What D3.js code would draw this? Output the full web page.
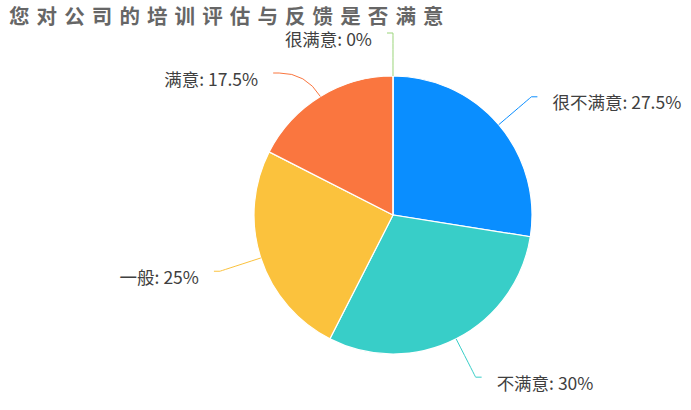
<!DOCTYPE html>
<html><head><meta charset="utf-8">
<script src="https://cdn.jsdelivr.net/npm/d3@7/dist/d3.min.js"></script>
<style>body{margin:0;background:#fff;}svg{display:block;}</style>
</head><body>
<svg id="chart" width="691" height="410"></svg>
<script>
const title = "您对公司的培训评估与反馈是否满意";
const categories = ["很不满意", "不满意", "一般", "满意", "很满意"];
const values = [27.5, 30, 25, 17.5, 0];
const colors = ["#0A8EFF", "#38CEC8", "#FBC23D", "#FA763F", "#9AD47A"];

const W = 691, H = 410;
const cx = 393, cy = 215, R = 139, labelR = 182, tail = 6, gap = 15, minSpace = 40;
const svg = d3.select("#chart");
const font = "'Noto Sans CJK SC','Noto Sans',sans-serif";

svg.append("text").attr("x", 9).attr("y", 15).attr("dominant-baseline", "central")
  .attr("font-family", font).attr("font-size", 20.5).attr("font-weight", 700)
  .attr("letter-spacing", 7.1).attr("fill", "#666").text(title);

const data = categories.map((c, i) => ({ name: c, value: values[i], color: colors[i] }));
const pie = d3.pie().sort(null).value(d => d.value);
const arcs = pie(data);
const arc = d3.arc().innerRadius(0).outerRadius(R);
const g = svg.append("g").attr("transform", `translate(${cx},${cy})`);

g.selectAll("path.slice").data(arcs).join("path").attr("class", "slice")
  .attr("d", arc).attr("fill", d => d.data.color)
  .attr("stroke", "#fff").attr("stroke-width", 1.2);

// label layout
const labels = arcs.map(d => {
  let a = (d.startAngle + d.endAngle) / 2;
  if (a >= 2 * Math.PI - 1e-9) a = 2 * Math.PI - 1e-6;
  const sx = R * Math.sin(a), sy = -R * Math.cos(a);
  const lx = labelR * Math.sin(a), ly = -labelR * Math.cos(a);
  return { d, a, sx, sy, lx, ly, right: Math.sin(a) > 0 };
});
[true, false].forEach(side => {
  const grp = labels.filter(l => l.right === side).sort((p, q) => p.ly - q.ly);
  for (let i = 1; i < grp.length; i++) {
    if (grp[i].ly - grp[i - 1].ly < minSpace) {
      grp[i].ly = grp[i - 1].ly + minSpace;
      const dx = Math.sqrt(Math.max(0, labelR * labelR - grp[i].ly * grp[i].ly));
      grp[i].lx = side ? dx : -dx;
    }
  }
});

labels.forEach(l => {
  const dir = l.right ? 1 : -1;
  const ux = Math.sin(l.a), uy = -Math.cos(l.a);
  let t = Math.abs(uy) > 1e-6 ? (l.ly - l.sy) / uy : 0;
  if (t < 0) t = 0;
  const c1x = l.sx + ux * t;
  const ex = l.lx + dir * tail;
  const path = `M${l.sx},${l.sy} Q${c1x},${l.ly} ${l.lx},${l.ly} L${ex},${l.ly}`;
  g.append("path").attr("d", path).attr("fill", "none")
    .attr("stroke", l.d.data.color).attr("stroke-width", 1);
  g.append("text").attr("x", ex + dir * gap).attr("y", l.ly + 5)
    .attr("dominant-baseline", "central")
    .attr("text-anchor", l.right ? "start" : "end")
    .attr("font-family", font).attr("font-size", 17.5).attr("fill", "#404040")
    .text(`${l.d.data.name}: ${l.d.data.value}%`);
});
</script>
</body></html>
